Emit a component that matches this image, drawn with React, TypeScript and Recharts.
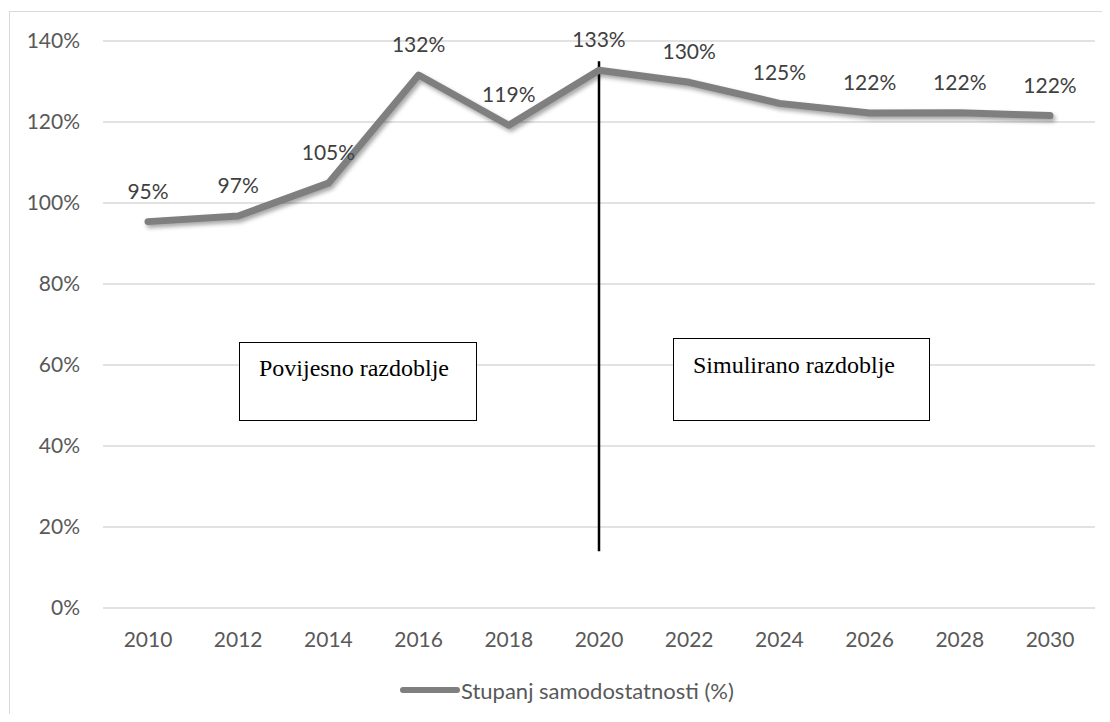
import {
  CartesianGrid,
  Legend,
  LabelList,
  Line,
  LineChart,
  ReferenceLine,
  XAxis,
  YAxis,
} from "recharts";

const years = ["2010", "2012", "2014", "2016", "2018", "2020", "2022", "2024", "2026", "2028", "2030"];
const selfSufficiency = [95.4, 96.8, 104.9, 131.6, 119.2, 132.8, 129.8, 124.6, 122.2, 122.3, 121.6];
const yTicks = [0, 20, 40, 60, 80, 100, 120, 140];
const seriesName = "Stupanj samodostatnosti (%)";
const splitYear = "2020";

const data = years.map((year, i) => ({ year, value: selfSufficiency[i] }));

const FONT = "Lato, 'Noto Sans', sans-serif";
const TEXT = "#595959";

function LegendContent() {
  return (
    <div style={{ display: "flex", alignItems: "center", paddingLeft: 400, height: 26, fontFamily: FONT, fontSize: 22, color: TEXT }}>
      <span style={{ display: "inline-block", width: 60, height: 6, borderRadius: 3, background: "#7f7f7f" }} />
      <span style={{ marginLeft: 1 }}>{seriesName}</span>
    </div>
  );
}

const boxStyle: React.CSSProperties = {
  position: "absolute",
  background: "#fff",
  border: "1px solid #000",
  fontFamily: "'Liberation Serif', 'Times New Roman', serif",
  fontSize: 24,
  lineHeight: "28px",
  color: "#000",
  boxSizing: "border-box",
  whiteSpace: "nowrap",
};

export default function App() {
  return (
    <div style={{ position: "relative", width: 1110, height: 722, margin: -8, background: "#fff", overflow: "hidden" }}>
      <div style={{ position: "absolute", left: 9, top: 11, width: 1120, height: 730, border: "1.5px solid #d9d9d9" }} />
      <div style={{ position: "absolute", left: 0, top: 0 }}>
        <LineChart width={1110} height={722} data={data} margin={{ top: 41, right: 15, bottom: 19, left: 33 }}>
          <CartesianGrid vertical={false} stroke="#d9d9d9" strokeWidth={1.5} />
          <XAxis
            dataKey="year"
            axisLine={false}
            tickLine={false}
            height={69}
            tickMargin={18}
            padding={{ left: 45, right: 45 }}
            tick={{ fill: TEXT, fontSize: 21, fontFamily: FONT }}
          />
          <YAxis
            domain={[0, 140]}
            ticks={yTicks}
            width={70}
            axisLine={false}
            tickLine={false}
            tickMargin={17}
            tickFormatter={(v: number) => `${v}%`}
            tick={{ fill: TEXT, fontSize: 21, fontFamily: FONT }}
          />
          <Legend
            verticalAlign="bottom"
            wrapperStyle={{ left: 0, width: 1110, height: 26 }}
            content={<LegendContent />}
          />
          <ReferenceLine
            segment={[
              { x: splitYear, y: 14 },
              { x: splitYear, y: 135 },
            ]}
            stroke="#000"
            strokeWidth={2.5}
            ifOverflow="visible"
          />
          <Line
            type="linear"
            dataKey="value"
            name={seriesName}
            stroke="#7f7f7f"
            strokeWidth={7}
            strokeLinecap="round"
            strokeLinejoin="round"
            dot={false}
            isAnimationActive={false}
            style={{ filter: "drop-shadow(2px 3px 2px rgba(0,0,0,0.35))" }}
          >
            <LabelList
              dataKey="value"
              position="top"
              offset={23}
              formatter={(v: number) => `${Math.round(v)}%`}
              style={{ fill: "#404040", fontSize: 21, fontFamily: FONT }}
            />
          </Line>
        </LineChart>
      </div>
      <div style={{ ...boxStyle, left: 239, top: 342, width: 238, height: 79, padding: "11px 0 0 19px" }}>
        Povijesno razdoblje
      </div>
      <div style={{ ...boxStyle, left: 673, top: 338, width: 257, height: 83, padding: "12px 0 0 19px" }}>
        Simulirano razdoblje
      </div>
    </div>
  );
}
